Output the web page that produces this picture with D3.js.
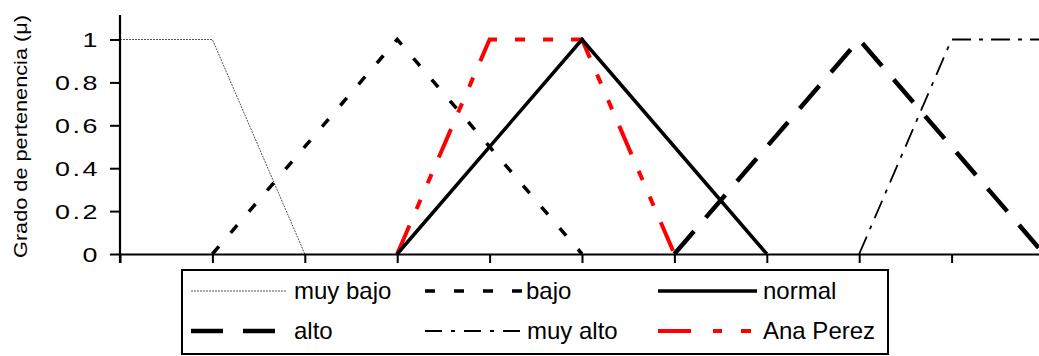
<!DOCTYPE html>
<html>
<head>
<meta charset="utf-8">
<script src="https://cdn.jsdelivr.net/npm/d3@7"></script>
<style>
  html, body { margin: 0; padding: 0; background: #fff; }
  svg { display: block; }
  text { font-family: "Liberation Sans", Arial, sans-serif; fill: #000; }
</style>
</head>
<body>
<svg id="chart" width="1039" height="356"></svg>
<script>
// ---- data ----
const xTicks = [0, 1, 2, 3, 4, 5, 6, 7, 8, 9, 10];
const yTicks = [0, 0.2, 0.4, 0.6, 0.8, 1];
const yTickLabels = ["0", "0.2", "0.4", "0.6", "0.8", "1"];
const seriesNames = ["muy bajo", "bajo", "normal", "alto", "muy alto", "Ana Perez"];
const muyBajo = [[0, 1], [1, 1], [2, 0]];
const bajo = [[1, 0], [3, 1], [5, 0]];
const normal = [[3, 0], [5, 1], [7, 0]];
const alto = [[6, 0], [8, 1], [10, 0]];
const muyAlto = [[8, 0], [9, 1], [10, 1]];
const anaPerez = [[3, 0], [4, 1], [5, 1], [6, 0]];
const yTitle = "Grado de pertenencia (\u03bc)";

// ---- styles ----
const styles = [
  { data: muyBajo, color: "#555", width: 1, dash: "2,1", legDash: "2,1" },
  { data: bajo, color: "#000", width: 3.5, dash: "10,18", legDash: "10,19" },
  { data: normal, color: "#000", width: 3.5, dash: null, legDash: null },
  { data: alto, color: "#000", width: 4.5, dash: "30,18", legDash: "32,20" },
  { data: muyAlto, color: "#000", width: 1.8, dash: "19,8,4,8", legDash: "17,9,4,9" },
  { data: anaPerez, color: "#ff0000", width: 4, dash: "31,18,10,18,10,18", legDash: "33,22,9,19,10,30" }
];

const svg = d3.select("#chart");
const x = d3.scaleLinear().domain([0, 10]).range([120, 1044]);
const y = d3.scaleLinear().domain([0, 1]).range([254, 39.5]);

// series lines
const line = d3.line().x(d => x(d[0])).y(d => y(d[1]));
const drawOrder = [0, 1, 3, 4, 5, 2];
drawOrder.forEach(i => {
  const s = styles[i];
  svg.append("path")
    .attr("d", line(s.data))
    .attr("fill", "none")
    .attr("stroke", s.color)
    .attr("stroke-width", s.width)
    .attr("stroke-dasharray", s.dash)
    .attr("stroke-linejoin", "miter")
    .attr("stroke-linecap", "butt");
});

// x axis
const xAxis = d3.axisBottom(x).tickValues(xTicks).tickSize(9).tickFormat("");
const gx = svg.append("g").attr("transform", `translate(0,${y(0)})`).call(xAxis);
gx.select(".domain").attr("stroke-width", 2.2).attr("d", `M${x(0)},0.5H${x(10)}`);
gx.selectAll(".tick line").attr("stroke-width", 2);

// y axis
const yAxis = d3.axisLeft(y).tickValues(yTicks).tickSize(10).tickFormat("");
const gy = svg.append("g").attr("transform", `translate(${x(0)},0)`).call(yAxis);
gy.select(".domain").attr("stroke-width", 2.2)
  .attr("d", `M0,${y(1.114)}V${y(0) + 9}`);
gy.selectAll(".tick line").attr("stroke-width", 2);

// y tick labels (wide glyphs)
yTicks.forEach((v, i) => {
  svg.append("text")
    .attr("transform", `translate(100,${y(v)}) scale(1.28,1)`)
    .attr("text-anchor", "end")
    .attr("dy", "0.36em")
    .attr("font-size", 21)
    .attr("letter-spacing", 2)
    .text(yTickLabels[i]);
});

// y title
svg.append("text")
  .attr("transform", "translate(27,258) rotate(-90)")
  .attr("text-anchor", "start")
  .attr("font-size", 19)
  .attr("textLength", 243)
  .attr("lengthAdjust", "spacingAndGlyphs")
  .text(yTitle);

// legend
svg.append("rect")
  .attr("x", 182).attr("y", 270).attr("width", 706).attr("height", 84)
  .attr("fill", "#fff").attr("stroke", "#000").attr("stroke-width", 2);

const legPos = [
  { x1: 191, x2: 287, tx: 294, ly: 291, ty: 298.5 },
  { x1: 425, x2: 522, tx: 526, ly: 291, ty: 298.5 },
  { x1: 658, x2: 757, tx: 763, ly: 291, ty: 298.5 },
  { x1: 191, x2: 287, tx: 294, ly: 331, ty: 338.5 },
  { x1: 425, x2: 521, tx: 527, ly: 331, ty: 338.5 },
  { x1: 658, x2: 752, tx: 763, ly: 331, ty: 338.5 }
];
seriesNames.forEach((name, i) => {
  const s = styles[i], p = legPos[i];
  svg.append("line")
    .attr("x1", p.x1).attr("x2", p.x2).attr("y1", p.ly).attr("y2", p.ly)
    .attr("stroke", s.color)
    .attr("stroke-width", i === 0 ? 1.2 : (i === 4 ? 2 : s.width))
    .attr("stroke-dasharray", s.legDash);
  svg.append("text")
    .attr("x", p.tx).attr("y", p.ty)
    .attr("font-size", 24)
    .text(name);
});
</script>
</body>
</html>
